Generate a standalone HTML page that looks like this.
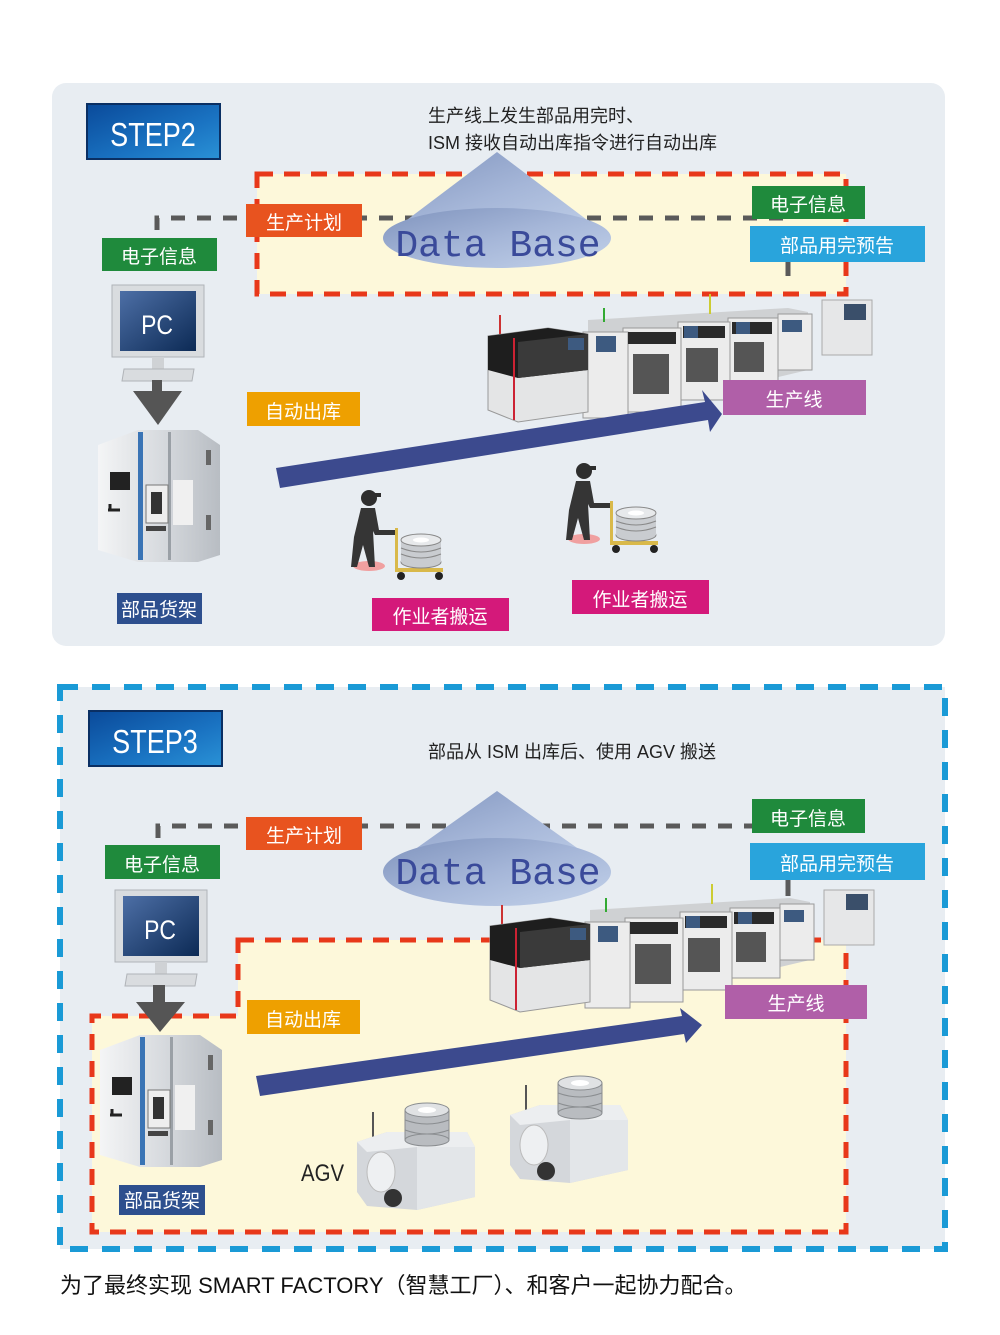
<!DOCTYPE html>
<html><head><meta charset="utf-8">
<style>
html,body{margin:0;padding:0;background:#fff;}
svg{display:block;}
text{font-family:"Liberation Sans","Noto Sans CJK SC",sans-serif;}
.lbl{fill:#fff;font-size:19px;}
.mono{font-family:"Liberation Mono","DejaVu Sans Mono",monospace;}
</style></head>
<body>
<svg width="1000" height="1335" viewBox="0 0 1000 1335" xmlns="http://www.w3.org/2000/svg">
<defs>
<linearGradient id="stepg" x1="0" y1="0" x2="1" y2="1">
<stop offset="0" stop-color="#0a4a9a"/><stop offset="0.6" stop-color="#1a73c2"/><stop offset="1" stop-color="#2a92d6"/></linearGradient>
<linearGradient id="coneg" x1="0" y1="0" x2="1" y2="1">
<stop offset="0" stop-color="#7f93bd"/><stop offset="0.5" stop-color="#a5b6d8"/><stop offset="1" stop-color="#c3d2ea"/></linearGradient>
<linearGradient id="scr" x1="0" y1="0" x2="1" y2="1">
<stop offset="0" stop-color="#4d6fa6"/><stop offset="1" stop-color="#0c2a55"/></linearGradient>
<linearGradient id="rackg" x1="0" y1="0" x2="1" y2="0">
<stop offset="0" stop-color="#f4f5f6"/><stop offset="0.5" stop-color="#d8dbdf"/><stop offset="1" stop-color="#b8bdc3"/></linearGradient>

<g id="pc">
<rect x="0" y="0" width="92" height="72" fill="#d9dcdf" stroke="#b0b4b8"/>
<rect x="8" y="6" width="76" height="60" fill="url(#scr)"/>
<rect x="40" y="72" width="12" height="12" fill="#cfd2d5"/>
<polygon points="12,84 82,84 80,96 10,96" fill="#d9dcdf" stroke="#b0b4b8"/>
</g>

<g id="rack">
<polygon points="0,15 40,0 100,0 122,15 122,125 100,132 40,132 0,120" fill="url(#rackg)"/>
<rect x="40" y="2" width="5" height="128" fill="#3a74b5"/>
<rect x="70" y="2" width="3" height="128" fill="#9aa0a6"/>
<rect x="12" y="42" width="20" height="18" fill="#222"/>
<rect x="48" y="55" width="22" height="38" fill="#eee" stroke="#777"/>
<rect x="53" y="62" width="11" height="22" fill="#333"/>
<rect x="75" y="50" width="20" height="45" fill="#f0f0f0"/>
<rect x="108" y="20" width="5" height="15" fill="#666"/>
<rect x="108" y="85" width="5" height="15" fill="#666"/>
<path d="M10,80 h12 M12,74 v6" stroke="#222" stroke-width="3"/>
<rect x="48" y="96" width="20" height="5" fill="#444"/>
</g>

<g id="line">
<rect x="334" y="0" width="50" height="55" fill="#e6e7e8" stroke="#aaa"/>
<rect x="356" y="4" width="22" height="16" fill="#3a4f6a"/>
<polygon points="100,20 300,8 320,12 320,70 150,110 100,110" fill="#cfd1d3"/>
<g fill="#ececec" stroke="#999" stroke-width="1">
<rect x="290" y="14" width="34" height="56"/>
<rect x="240" y="18" width="50" height="70"/>
<rect x="190" y="22" width="52" height="78"/>
<rect x="135" y="28" width="58" height="84"/>
<rect x="95" y="32" width="45" height="86"/>
</g>
<g fill="#2a2a2a">
<rect x="244" y="22" width="40" height="12"/><rect x="195" y="26" width="42" height="12"/><rect x="140" y="32" width="48" height="12"/>
</g>
<g fill="#555">
<rect x="246" y="42" width="30" height="30"/><rect x="198" y="48" width="32" height="34"/><rect x="145" y="54" width="36" height="40"/>
</g>
<g fill="#3d5a80"><rect x="294" y="20" width="20" height="12"/><rect x="248" y="22" width="14" height="12"/><rect x="196" y="26" width="14" height="12"/><rect x="108" y="36" width="20" height="16"/></g>
<line x1="12" y1="15" x2="12" y2="35" stroke="#c33" stroke-width="2"/>
<line x1="116" y1="8" x2="116" y2="22" stroke="#3a3" stroke-width="2"/>
<line x1="222" y1="-6" x2="222" y2="14" stroke="#cc3" stroke-width="2"/>
<polygon points="0,36 60,28 100,34 100,112 30,122 0,110" fill="#e4e5e6" stroke="#999"/>
<polygon points="0,36 60,28 100,34 100,70 30,78 0,70" fill="#1e1e1e"/>
<polygon points="30,42 100,34 100,70 30,78" fill="#3a3a3a"/>
<rect x="80" y="38" width="16" height="12" fill="#3d5a80"/>
<line x1="26" y1="38" x2="26" y2="120" stroke="#c23" stroke-width="2"/>
</g>

<g id="worker">
<ellipse cx="14" cy="76" rx="16" ry="5" fill="#f0a0a0"/>
<circle cx="14" cy="8" r="8" fill="#2e2e2e"/>
<rect x="16" y="3" width="10" height="4" fill="#2e2e2e"/>
<path d="M6,18 h14 l4,22 h16 v5 h-20 l-2,-4 l2,36 h-6 l-6,-22 l-6,22 h-6 l3,-30 z" fill="#353535"/>
<rect x="40" y="38" width="3" height="44" fill="#d9b94a"/>
<rect x="40" y="78" width="48" height="4" fill="#d9b94a"/>
<circle cx="46" cy="86" r="4" fill="#222"/><circle cx="84" cy="86" r="4" fill="#222"/>
<g fill="#c9ccd0" stroke="#888">
<ellipse cx="66" cy="72" rx="20" ry="6"/>
<rect x="46" y="50" width="40" height="22" stroke="none"/>
<ellipse cx="66" cy="50" rx="20" ry="6" fill="#e7e9eb"/>
</g>
<path d="M46,58 q20,8 40,0 M46,64 q20,8 40,0" stroke="#888" fill="none"/>
<ellipse cx="66" cy="50" rx="8" ry="2.5" fill="#fff"/>
</g>

<g id="agv">
<line x1="16" y1="10" x2="16" y2="38" stroke="#555" stroke-width="2"/>
<polygon points="0,40 30,30 110,30 118,45 118,95 60,108 10,104 0,90" fill="#d4d7db"/>
<polygon points="60,45 118,45 118,95 60,108" fill="#e3e6e9"/>
<polygon points="0,40 30,30 110,30 118,45 60,45 10,50" fill="#eceef0"/>
<ellipse cx="24" cy="70" rx="14" ry="20" fill="#eef0f2" stroke="#bbb"/>
<circle cx="36" cy="96" r="9" fill="#333"/>
<g fill="#b9bcc0" stroke="#8a8d90">
<rect x="48" y="8" width="44" height="30"/>
<ellipse cx="70" cy="38" rx="22" ry="6"/>
<ellipse cx="70" cy="8" rx="22" ry="7" fill="#e0e2e4"/>
</g>
<path d="M48,18 q22,8 44,0 M48,28 q22,8 44,0" stroke="#8a8d90" fill="none"/>
<ellipse cx="70" cy="8" rx="9" ry="3" fill="#fff"/>
</g>
</defs>

<!-- ================= STEP2 ================= -->
<rect x="52" y="83" width="893" height="563" rx="14" fill="#e8edf2"/>
<rect x="87" y="104" width="133" height="55" fill="url(#stepg)" stroke="#0a2f63" stroke-width="2"/>
<text transform="translate(153,146) scale(0.82,1)" font-size="33" fill="#fff" text-anchor="middle">STEP2</text>
<text x="428" y="122" font-size="18" fill="#222">生产线上发生部品用完时、</text>
<text x="428" y="149" font-size="18" fill="#222">ISM 接收自动出库指令进行自动出库</text>

<rect x="257" y="174" width="589" height="120" fill="#fdf8da" stroke="#e8381a" stroke-width="5" stroke-dasharray="16,11"/>
<path d="M157,230 V218 H790" fill="none" stroke="#5a5a5a" stroke-width="5" stroke-dasharray="14,12"/>
<path d="M788,262 V282" fill="none" stroke="#5a5a5a" stroke-width="5" stroke-dasharray="14,8"/>

<polygon points="497,152 383,238 611,238" fill="url(#coneg)"/>
<ellipse cx="497" cy="238" rx="114" ry="30" fill="url(#coneg)"/>
<text x="498" y="256" font-size="38" fill="#3a4a9a" text-anchor="middle" class="mono">Data Base</text>

<rect x="246" y="204" width="116" height="33" fill="#e8531f"/><text x="304" y="229" class="lbl" text-anchor="middle">生产计划</text>
<rect x="752" y="186" width="113" height="33" fill="#1f8a3c"/><text x="808" y="211" class="lbl" text-anchor="middle">电子信息</text>
<rect x="750" y="226" width="175" height="36" fill="#29a4dc"/><text x="837" y="252" class="lbl" text-anchor="middle">部品用完预告</text>
<rect x="102" y="238" width="115" height="33" fill="#1f8a3c"/><text x="159" y="263" class="lbl" text-anchor="middle">电子信息</text>

<use href="#pc" x="112" y="285"/>
<text transform="translate(157,334) scale(0.85,1)" font-size="27" fill="#fff" text-anchor="middle">PC</text>
<polygon points="133,391 182,391 158,425" fill="#555"/>
<rect x="152" y="380" width="10" height="12" fill="#555"/>
<use href="#rack" x="98" y="430"/>
<rect x="117" y="593" width="85" height="31" fill="#2d4f8e"/><text x="159" y="616" class="lbl" text-anchor="middle">部品货架</text>

<rect x="247" y="392" width="113" height="34" fill="#eea000"/><text x="303" y="418" class="lbl" text-anchor="middle">自动出库</text>

<use href="#line" x="488" y="300"/>
<polygon points="276,468 705,402 702,390 722,414 710,432 708,420 280,488" fill="#3c4a8e"/>
<rect x="723" y="380" width="143" height="35" fill="#b05fa8"/><text x="794" y="406" class="lbl" text-anchor="middle">生产线</text>

<use href="#worker" x="355" y="490"/>
<use href="#worker" x="570" y="463"/>
<rect x="372" y="598" width="137" height="33" fill="#d4197a"/><text x="440" y="623" class="lbl" text-anchor="middle">作业者搬运</text>
<rect x="572" y="580" width="137" height="34" fill="#d4197a"/><text x="640" y="606" class="lbl" text-anchor="middle">作业者搬运</text>

<!-- ================= STEP3 ================= -->
<rect x="60" y="687" width="885" height="562" fill="#e8edf2" stroke="#1a9ad6" stroke-width="6" stroke-dasharray="18,14"/>
<rect x="89" y="711" width="133" height="55" fill="url(#stepg)" stroke="#0a2f63" stroke-width="2"/>
<text transform="translate(155,753) scale(0.82,1)" font-size="33" fill="#fff" text-anchor="middle">STEP3</text>
<text x="428" y="758" font-size="18" fill="#222">部品从 ISM 出库后、使用 AGV 搬送</text>

<path d="M238,940 H846 V1232 H92 V1016 H238 Z" fill="#fdf8da" stroke="#e8381a" stroke-width="5" stroke-dasharray="16,11"/>
<path d="M158,838 V826 H752" fill="none" stroke="#5a5a5a" stroke-width="5" stroke-dasharray="14,12"/>
<path d="M788,880 V896" fill="none" stroke="#5a5a5a" stroke-width="5"/>

<polygon points="497,791 383,872 611,872" fill="url(#coneg)"/>
<ellipse cx="497" cy="872" rx="114" ry="34" fill="url(#coneg)"/>
<text x="498" y="884" font-size="38" fill="#3a4a9a" text-anchor="middle" class="mono">Data Base</text>

<rect x="246" y="817" width="116" height="33" fill="#e8531f"/><text x="304" y="842" class="lbl" text-anchor="middle">生产计划</text>
<rect x="752" y="799" width="113" height="34" fill="#1f8a3c"/><text x="808" y="825" class="lbl" text-anchor="middle">电子信息</text>
<rect x="750" y="843" width="175" height="37" fill="#29a4dc"/><text x="837" y="870" class="lbl" text-anchor="middle">部品用完预告</text>
<rect x="105" y="845" width="115" height="34" fill="#1f8a3c"/><text x="162" y="871" class="lbl" text-anchor="middle">电子信息</text>

<use href="#pc" x="115" y="890"/>
<text transform="translate(160,939) scale(0.85,1)" font-size="27" fill="#fff" text-anchor="middle">PC</text>
<rect x="153" y="985" width="12" height="18" fill="#555"/>
<polygon points="136,1002 185,1002 160,1032" fill="#555"/>
<use href="#rack" x="100" y="1035"/>
<rect x="119" y="1185" width="86" height="30" fill="#2d4f8e"/><text x="162" y="1207" class="lbl" text-anchor="middle">部品货架</text>

<rect x="247" y="1000" width="113" height="34" fill="#eea000"/><text x="303" y="1026" class="lbl" text-anchor="middle">自动出库</text>

<use href="#line" x="490" y="890"/>
<polygon points="256,1076 682,1016 680,1008 702,1025 686,1043 684,1034 260,1096" fill="#3c4a8e"/>
<rect x="725" y="985" width="142" height="34" fill="#b05fa8"/><text x="796" y="1010" class="lbl" text-anchor="middle">生产线</text>

<use href="#agv" x="357" y="1102"/>
<use href="#agv" x="510" y="1075"/>
<text transform="translate(301,1181) scale(0.85,1)" font-size="24" fill="#222">AGV</text>

<text x="60" y="1293" font-size="22" fill="#111">为了最终实现 SMART FACTORY（智慧工厂）、和客户一起协力配合。</text>
</svg>
</body></html>
